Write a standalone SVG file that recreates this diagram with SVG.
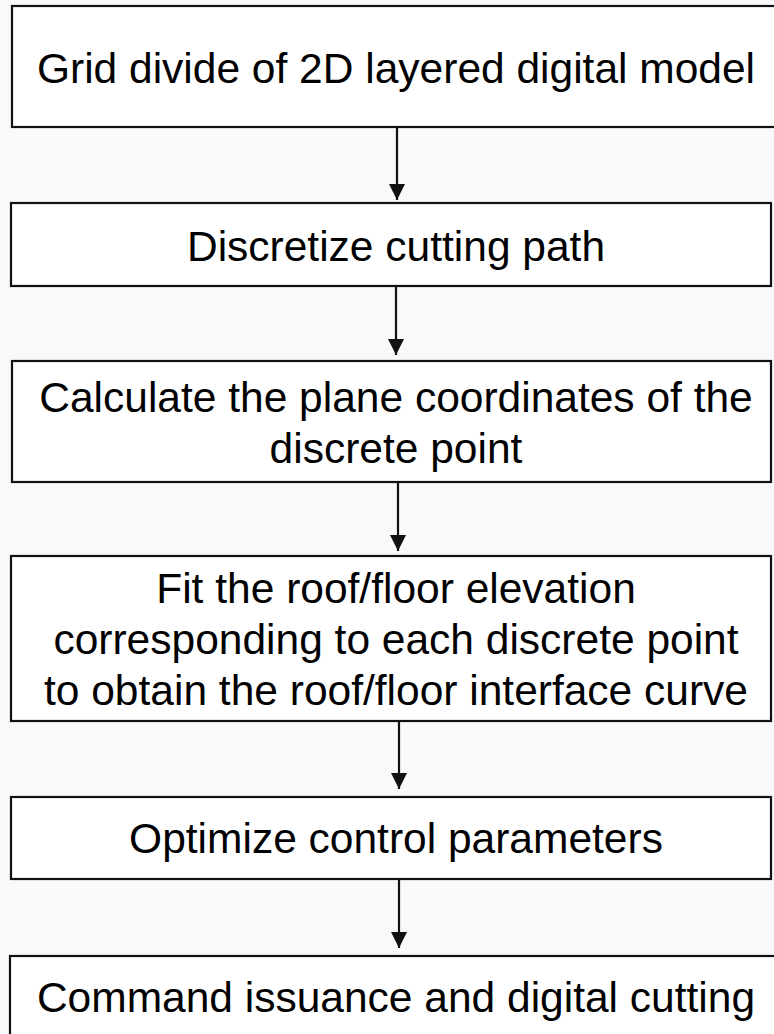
<svg xmlns="http://www.w3.org/2000/svg" width="774" height="1034" viewBox="0 0 774 1034">
<defs>
<style>
.box{fill:#ffffff;stroke:#111111;stroke-width:2.2}
.t{font-family:"Liberation Sans",Arial,sans-serif;font-size:42.5px;fill:#000000;text-anchor:middle}
.ln{stroke:#111111;stroke-width:2.2;fill:none}
</style>
<marker id="ah" viewBox="0 0 16 16" refX="16" refY="8" markerWidth="16" markerHeight="16" markerUnits="userSpaceOnUse" orient="auto">
<path d="M0,0 L16,8 L0,16 Z" fill="#111111"/>
</marker>
</defs>
<rect x="0" y="0" width="774" height="1034" fill="#f8f9fa"/>
<g id="n1"><rect class="box" x="12" y="6" width="766" height="121"/><text class="t" x="396" y="83">Grid divide of 2D layered digital model</text></g>
<g id="n2"><rect class="box" x="11" y="203" width="760" height="83"/><text class="t" x="396" y="261">Discretize cutting path</text></g>
<g id="n3"><rect class="box" x="12" y="361" width="759" height="121"/><text class="t" x="396" y="412">Calculate the plane coordinates of the</text><text class="t" x="396" y="463">discrete point</text></g>
<g id="n4"><rect class="box" x="11" y="556" width="760" height="165"/><text class="t" x="396" y="603">Fit the roof/floor elevation</text><text class="t" x="396" y="654">corresponding to each discrete point</text><text class="t" x="396" y="705">to obtain the roof/floor interface curve</text></g>
<g id="n5"><rect class="box" x="11" y="797" width="760" height="82"/><text class="t" x="396" y="853">Optimize control parameters</text></g>
<g id="n6"><rect class="box" x="10" y="956" width="768" height="84"/><text class="t" x="396" y="1012">Command issuance and digital cutting</text></g>
<g id="connectors">
<line class="ln" x1="397" y1="128" x2="397" y2="200" marker-end="url(#ah)"/>
<line class="ln" x1="396" y1="287" x2="396" y2="355" marker-end="url(#ah)"/>
<line class="ln" x1="398" y1="483" x2="398" y2="551" marker-end="url(#ah)"/>
<line class="ln" x1="399" y1="722" x2="399" y2="789" marker-end="url(#ah)"/>
<line class="ln" x1="399" y1="880" x2="399" y2="948" marker-end="url(#ah)"/>
</g>
</svg>
